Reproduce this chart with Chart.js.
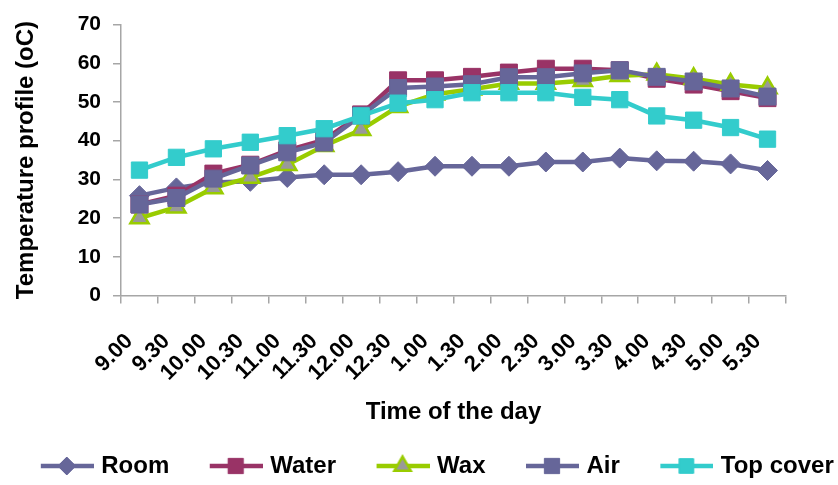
<!DOCTYPE html>
<html>
<head>
<meta charset="utf-8">
<script src="https://cdn.jsdelivr.net/npm/chart.js@4.4.1/dist/chart.umd.min.js"></script>
<style>
  html, body { margin: 0; padding: 0; background: #fff; }
  canvas { display: block; }
</style>
</head>
<body>
<canvas id="grafico" width="838" height="485"></canvas>
<script>
// Datos
const horas = ['9.00', '9.30', '10.00', '10.30', '11.00', '11.30', '12.00', '12.30', '1.00',
  '1.30', '2.00', '2.30', '3.00', '3.30', '4.00', '4.30', '5.00', '5.30'];
const room = [25.8, 27.8, 29.2, 29.5, 30.5, 31.2, 31.2, 32.0, 33.4, 33.4, 33.4, 34.5, 34.5, 35.5, 34.8, 34.7, 34.0, 32.3];
const water = [23.5, 25.8, 31.5, 33.8, 37.5, 40.2, 46.8, 55.6, 55.6, 56.5, 57.6, 58.6, 58.6, 58.2, 56.0, 54.5, 52.8, 51.0];
const wax = [20.0, 22.8, 27.8, 30.5, 33.8, 38.7, 42.8, 48.8, 52.0, 53.3, 54.8, 54.8, 55.5, 56.8, 57.2, 56.0, 54.5, 53.6];
const air = [23.5, 25.2, 30.2, 33.6, 37.0, 39.5, 46.5, 53.6, 54.0, 54.6, 56.4, 56.4, 57.4, 58.2, 56.5, 55.3, 53.5, 51.4];
const topCover = [32.4, 35.7, 37.9, 39.6, 41.3, 43.1, 46.4, 49.7, 50.6, 52.4, 52.4, 52.4, 51.2, 50.6, 46.4, 45.3, 43.4, 40.4];
const series = ['Room', 'Water', 'Wax', 'Air', 'Top cover'];

const fuente = "'Liberation Sans', Arial, sans-serif";
const gris = '#a6a6a6';

// estilo de cada serie (color de línea, marcador)
const estilos = [
  { linea: '#666699', relleno: '#666699', borde: '#666699', forma: 'rectRot', radio: 10, bw: 1 },
  { linea: '#993366', relleno: '#993366', borde: '#993366', forma: 'rect', radio: 12, bw: 1 },
  { linea: '#99cc00', relleno: '#999999', borde: '#99cc00', forma: 'triangle', radio: 10.5, bw: 2.5 },
  { linea: '#666699', relleno: '#666699', borde: '#666699', forma: 'rect', radio: 12, bw: 1 },
  { linea: '#33cccc', relleno: '#33cccc', borde: '#33cccc', forma: 'rect', radio: 11.5, bw: 1 }
];

// iconos de la leyenda: línea con marcador (como en Excel)
function crearIcono(e) {
  const c = document.createElement('canvas');
  c.width = 94; c.height = 32;
  const ctx = c.getContext('2d');
  ctx.strokeStyle = e.linea;
  ctx.lineWidth = 4.5;
  ctx.beginPath();
  ctx.moveTo(41, 16);
  ctx.lineTo(94, 16);
  ctx.stroke();
  ctx.fillStyle = e.relleno;
  ctx.strokeStyle = e.borde;
  ctx.lineWidth = e.bw;
  Chart.helpers.drawPoint(ctx, { pointStyle: e.forma, radius: e.radio * 0.9, borderWidth: e.bw, rotation: 0 }, 67, 16);
  return c;
}
const iconos = estilos.map(crearIcono);

const valores = [room, water, wax, air, topCover];
const datasets = series.map((nombre, i) => ({
  label: nombre,
  data: valores[i],
  borderColor: estilos[i].linea,
  backgroundColor: estilos[i].relleno,
  borderWidth: 4.5,
  pointStyle: estilos[i].forma,
  pointRadius: estilos[i].radio,
  pointBackgroundColor: estilos[i].relleno,
  pointBorderColor: estilos[i].borde,
  pointBorderWidth: estilos[i].bw,
  tension: 0,
  order: 5 - i
}));

const margenInferior = -3;

new Chart(document.getElementById('grafico'), {
  type: 'line',
  data: { labels: horas, datasets: datasets },
  options: {
    responsive: false,
    animation: false,
    layout: { padding: { top: 20, right: 0, left: 0, bottom: margenInferior } },
    plugins: {
      tooltip: { enabled: false },
      legend: {
        position: 'bottom',
        labels: {
          usePointStyle: true,
          pointStyleWidth: 85,
          padding: 4,
          color: '#000',
          font: { family: fuente, size: 24, weight: 'bold' },
          generateLabels: (chart) => chart.data.datasets.map((ds, i) => ({
            text: ds.label,
            pointStyle: iconos[i],
            fillStyle: ds.borderColor,
            strokeStyle: ds.borderColor,
            lineWidth: 0,
            hidden: false,
            datasetIndex: i
          }))
        }
      }
    },
    scales: {
      x: {
        offset: true,
        grid: { offset: true, drawOnChartArea: false, drawTicks: true, tickLength: 8, color: gris, lineWidth: 1.5 },
        border: { display: true, color: gris, width: 1.5 },
        ticks: {
          color: '#000', font: { family: fuente, size: 22, weight: 'bold' },
          maxRotation: 45, minRotation: 45, padding: 25, labelOffset: -10, autoSkip: false
        },
        title: {
          display: true, text: 'Time of the day', color: '#000',
          font: { family: fuente, size: 24, weight: 'bold' },
          padding: { top: 0, bottom: 23 }
        },
        afterFit: (escala) => {
          const leyenda = escala.chart.legend;
          const alto = leyenda ? leyenda.height : 45;
          escala.height = 485 - margenInferior - alto - 295.5;
        }
      },
      y: {
        min: 0, max: 70,
        ticks: { stepSize: 10, color: '#000', font: { family: fuente, size: 21, weight: 'bold' }, padding: 12 },
        grid: { drawOnChartArea: false, drawTicks: true, tickLength: 8, color: gris, lineWidth: 1.5 },
        border: { display: true, color: gris, width: 1.5 },
        title: {
          display: true, text: 'Temperature profile (oC)', color: '#000',
          font: { family: fuente, size: 24, weight: 'bold' },
          padding: { top: 12, bottom: 0 }
        },
        afterFit: (escala) => { escala.width = 121; }
      },
      // eje vacío a la derecha solo para dejar el margen del gráfico original
      margen: {
        position: 'right',
        display: true,
        ticks: { display: false },
        grid: { display: false },
        border: { display: false },
        afterFit: (escala) => { escala.width = 52; }
      }
    }
  }
});
</script>
</body>
</html>
